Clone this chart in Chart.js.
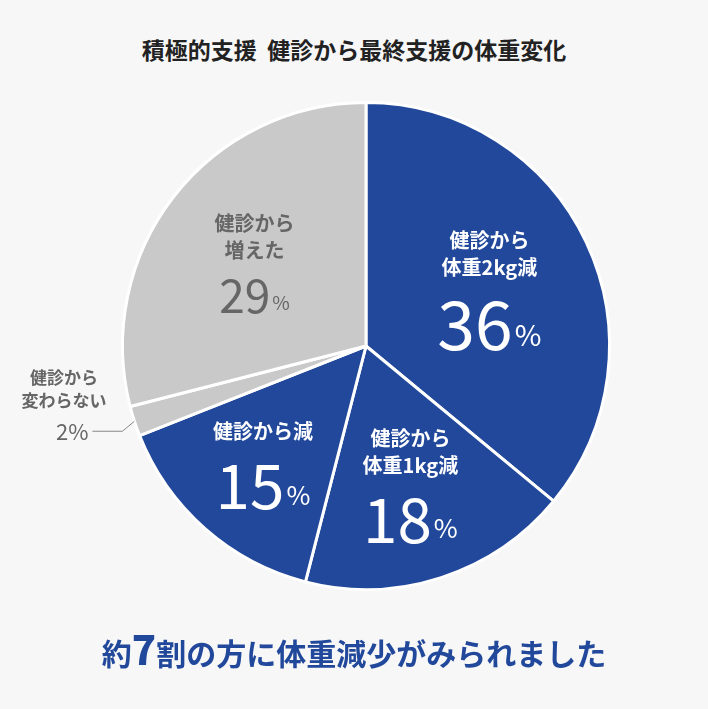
<!DOCTYPE html>
<html><head><meta charset="utf-8">
<script src="https://cdn.jsdelivr.net/npm/chart.js@4"></script>
<style>
body{margin:0;background:#f7f7f7;font-family:"Noto Sans CJK JP","Noto Sans",sans-serif;}
#wrap{position:relative;width:708px;height:709px;}
canvas{position:absolute;left:0;top:0;}
.title{position:absolute;top:32px;left:0;width:708px;text-align:center;font-size:23px;font-weight:bold;color:#222;}
.note{position:absolute;top:626px;left:0;width:708px;text-align:center;font-size:30px;font-weight:bold;color:#21489a;line-height:44px;}
.note b{font-size:40px;}
</style></head><body>
<div id="wrap">
<div class="title">積極的支援&nbsp;&nbsp;健診から最終支援の体重変化</div>
<canvas id="pie" width="708" height="709"></canvas>
<div class="note">約<b>7</b>割の方に体重減少がみられました</div>
</div>
<script>
const categories = [['健診から', '体重2kg減'], ['健診から', '体重1kg減'], ['健診から減'], ['健診から', '変わらない'], ['健診から', '増えた']];
const values = [36, 18, 15, 2, 29];
const colors = ['#21489a', '#21489a', '#21489a', '#c9c9c9', '#c9c9c9'];

// label placement per slice: radius factor, number size, text colour
const labelStyle = [
  { f: 0.56, size: 68, color: '#fff' },
  { f: 0.59, size: 62, color: '#fff' },
  { f: 0.64, size: 62, color: '#fff' },
  { outside: true, size: 22, color: '#666' },
  { f: 0.58, size: 46, color: '#666' },
];

const labelPlugin = {
  id: 'labels',
  afterDatasetsDraw(chart) {
    const ctx = chart.ctx;
    chart.getDatasetMeta(0).data.forEach((arc, i) => {
      const st = labelStyle[i];
      const mid = (arc.startAngle + arc.endAngle) / 2;
      ctx.save();
      ctx.fillStyle = st.color;
      ctx.textBaseline = 'middle';
      if (st.outside) {
        const ex = arc.x + Math.cos(mid) * arc.outerRadius;
        const ey = arc.y + Math.sin(mid) * arc.outerRadius;
        ctx.strokeStyle = '#888';
        ctx.lineWidth = 1;
        ctx.beginPath();
        ctx.moveTo(ex, ey);
        ctx.lineTo(ex - 12, ey + 10);
        ctx.lineTo(ex - 42, ey + 10);
        ctx.stroke();
        ctx.textAlign = 'center';
        ctx.font = 'bold 17px "Noto Sans CJK JP"';
        categories[i].forEach((t, k) => ctx.fillText(t, 64, 378 + k * 23));
        ctx.textAlign = 'right';
        ctx.font = '400 22px "Noto Sans CJK JP"';
        ctx.fillText(values[i] + '%', ex - 46, ey + 10);
        ctx.restore();
        return;
      }
      const r = arc.outerRadius * st.f;
      const cx = arc.x + Math.cos(mid) * r;
      const cy = arc.y + Math.sin(mid) * r;
      const lines = categories[i];
      const lh = 27;
      const total = lines.length * lh + st.size;
      let y = cy - total / 2 + lh / 2;
      ctx.textAlign = 'center';
      ctx.font = 'bold 20px "Noto Sans CJK JP"';
      lines.forEach(t => { ctx.fillText(t, cx, y); y += lh; });
      y += st.size / 2 - 4;
      const nFont = '400 ' + st.size + 'px "Noto Sans CJK JP"';
      const pFont = '400 ' + Math.round(st.size * 0.42) + 'px "Noto Sans CJK JP"';
      const num = String(values[i]);
      ctx.font = nFont;
      const nw = ctx.measureText(num).width;
      ctx.font = pFont;
      const pw = ctx.measureText('%').width;
      const x0 = cx - (nw + pw + 2) / 2;
      ctx.textAlign = 'left';
      ctx.font = nFont;
      ctx.fillText(num, x0, y);
      ctx.font = pFont;
      ctx.fillText('%', x0 + nw + 2, y + st.size * 0.15);
      ctx.restore();
    });
  }
};

new Chart(document.getElementById('pie'), {
  type: 'pie',
  data: {
    labels: categories.map(c => c.join('')),
    datasets: [{ data: values, backgroundColor: colors, borderColor: '#fff', borderWidth: 3 }],
  },
  options: {
    responsive: false,
    animation: false,
    layout: { padding: { top: 101, bottom: 118, left: 121, right: 97 } },
    plugins: { legend: { display: false }, tooltip: { enabled: false } },
  },
  plugins: [labelPlugin],
});
</script>
</body></html>
